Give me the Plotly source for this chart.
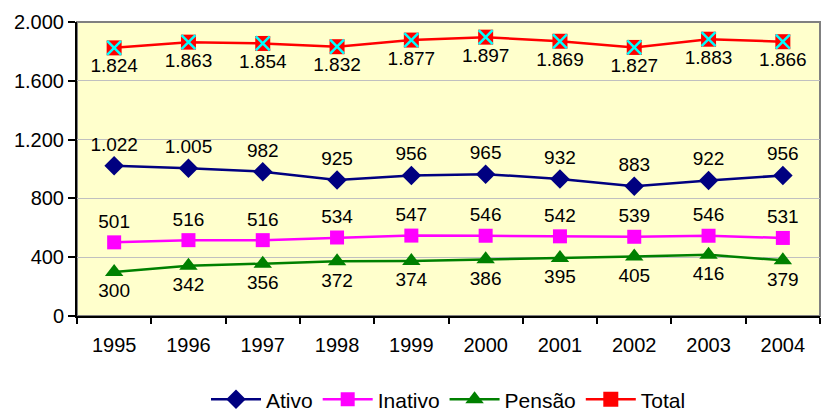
import plotly.graph_objects as go

years = ["1995", "1996", "1997", "1998", "1999", "2000", "2001", "2002", "2003", "2004"]
ativo = [1022, 1005, 982, 925, 956, 965, 932, 883, 922, 956]
inativo = [501, 516, 516, 534, 547, 546, 542, 539, 546, 531]
pensao = [300, 342, 356, 372, 374, 386, 395, 405, 416, 379]
total = [1824, 1863, 1854, 1832, 1877, 1897, 1869, 1827, 1883, 1866]
y_ticks = [0, 400, 800, 1200, 1600, 2000]

FONT = "Liberation Sans"

def series(name, vals, color, symbol, size, textpos):
    return go.Scatter(
        x=years, y=vals, name=name, mode="lines+markers+text",
        line=dict(color=color, width=2.5),
        marker=dict(color=color, symbol=symbol, size=size, line=dict(width=0)),
        text=vals, texttemplate="%{y:,d}", textposition=textpos,
        textfont=dict(family=FONT, size=19, color="black"),
        cliponaxis=False, legendgroup=name,
    )

fig = go.Figure()
fig.add_trace(series("Ativo", ativo, "#000080", "diamond", 15, "top center"))
fig.add_trace(series("Inativo", inativo, "#FF00FF", "square", 14, "top center"))
fig.add_trace(series("Pensão", pensao, "#008000", "triangle-up", 16, "bottom center"))
fig.add_trace(series("Total", total, "#FF0000", "square", 15, "bottom center"))
fig.add_trace(go.Scatter(
    x=years, y=total, name="Total", mode="markers", showlegend=False, legendgroup="Total",
    marker=dict(symbol="x-thin", size=14, line=dict(color="#00FFFF", width=2.5)),
    cliponaxis=False, hoverinfo="skip",
))

fig.add_shape(type="rect", xref="paper", yref="paper", x0=0, y0=0, x1=1, y1=1,
              line=dict(color="#808080", width=2), layer="below")

fig.update_layout(
    width=830, height=414,
    margin=dict(l=77, r=10, t=22, b=98, autoexpand=False),
    paper_bgcolor="white", plot_bgcolor="#FFFFCC",
    separators=",.",
    font=dict(family=FONT, size=19, color="black"),
    showlegend=True,
    legend=dict(orientation="h", x=0.5, xanchor="center", y=-0.215, yanchor="top",
                font=dict(family=FONT, size=21, color="black"),
                itemwidth=50, traceorder="normal", bgcolor="rgba(0,0,0,0)"),
    xaxis=dict(type="category", range=[-0.5, 9.5], tickson="boundaries",
               ticks="outside", ticklen=6, tickcolor="black", tickwidth=1.5,
               showline=True, linecolor="black", linewidth=2,
               showgrid=False, tickfont=dict(family=FONT, size=20),
               ticklabelstandoff=10),
    yaxis=dict(range=[0, 2000], tickvals=y_ticks, tickformat=",d",
               ticks="outside", ticklen=7, tickcolor="black", tickwidth=1.5,
               showline=True, linecolor="black", linewidth=2,
               showgrid=True, gridcolor="#C0C0C0", gridwidth=1,
               zeroline=False, tickfont=dict(family=FONT, size=20)),
)

fig.write_html("out.html", config={"displayModeBar": False},
               post_script="document.body.style.margin='0';")
